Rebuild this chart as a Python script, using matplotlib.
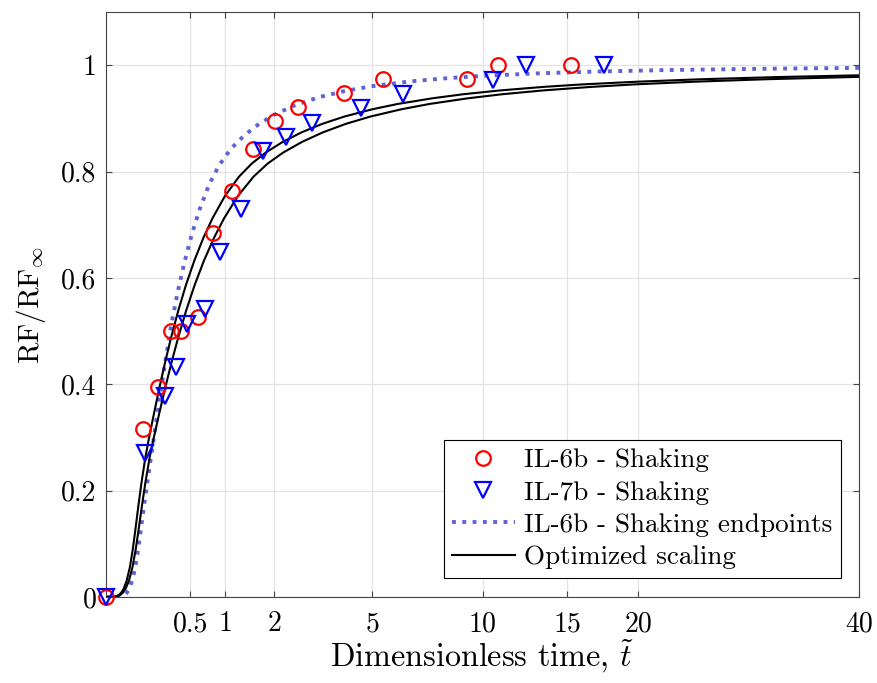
import numpy as np
import matplotlib
matplotlib.use("Agg")
import matplotlib.pyplot as plt

plt.rcParams['font.family'] = 'serif'
plt.rcParams['font.serif'] = ['cmr10']
plt.rcParams['mathtext.fontset'] = 'cm'
plt.rcParams['axes.formatter.use_mathtext'] = True

# measured recovery, IL-6b and IL-7b shaking tests
t_6b = [0, 0.098, 0.193, 0.298, 0.394, 0.601, 0.803, 1.126, 1.518, 2.015, 2.601,
        3.997, 5.414, 9.21, 10.84, 15.24]
rf_6b = [0, 0.316, 0.395, 0.5, 0.5, 0.526, 0.684, 0.763, 0.842, 0.895, 0.921,
         0.947, 0.974, 0.974, 1.0, 1.0]

t_7b = [0, 0.107, 0.246, 0.346, 0.459, 0.692, 0.917, 1.280, 1.739, 2.294, 2.994,
        4.599, 6.211, 10.57, 12.45, 17.48]
rf_7b = [0, 0.270, 0.378, 0.432, 0.514, 0.541, 0.649, 0.730, 0.838, 0.865, 0.892,
         0.919, 0.946, 0.973, 1.0, 1.0]

# fitted curve through the IL-6b endpoints
t_end = [0, 0.01, 0.015, 0.02, 0.025, 0.03, 0.035, 0.04, 0.05, 0.06, 0.07, 0.085,
         0.1, 0.12, 0.145, 0.175, 0.21, 0.25, 0.3, 0.36, 0.43, 0.52, 0.62, 0.75,
         0.9, 1.1, 1.35, 1.65, 2.0, 2.5, 3.2, 4, 5, 6.5, 8, 10, 13, 17, 22, 30, 40]
rf_end = [0, 0.0003, 0.001, 0.0023, 0.0044, 0.0076, 0.012, 0.0178, 0.0338, 0.0555,
          0.0815, 0.1244, 0.1666, 0.2145, 0.2669, 0.3238, 0.384, 0.4455, 0.5113,
          0.571, 0.6264, 0.6822, 0.7296, 0.7754, 0.8112, 0.8428, 0.8681, 0.8894,
          0.907, 0.9242, 0.9398, 0.9512, 0.9606, 0.9694, 0.975, 0.9799, 0.9845,
          0.9881, 0.9908, 0.9932, 0.9949]

# optimized scaling, one curve per test
t_opt_a = [0, 0.003, 0.005, 0.008, 0.012, 0.017, 0.022, 0.03, 0.04, 0.05, 0.06,
           0.075, 0.09, 0.11, 0.13, 0.16, 0.2, 0.25, 0.3, 0.37, 0.45, 0.55, 0.67,
           0.8, 1.0, 1.25, 1.5, 1.8, 2.2, 2.7, 3.3, 4, 5, 6, 7.5, 9, 11, 13.5, 16,
           20, 25, 32, 40]
rf_opt_a = [0, 0.0002, 0.0006, 0.0017, 0.0041, 0.0088, 0.0155, 0.0301, 0.0553,
            0.0873, 0.1229, 0.1745, 0.2177, 0.2636, 0.298, 0.3416, 0.392, 0.4447,
            0.4886, 0.5394, 0.5861, 0.6323, 0.6756, 0.7121, 0.7544, 0.7906, 0.8151,
            0.8357, 0.8556, 0.8738, 0.8897, 0.9033, 0.9171, 0.9271, 0.9377, 0.9454,
            0.9527, 0.9592, 0.9639, 0.9691, 0.9736, 0.9778, 0.981]

t_opt_b = [0, 0.0037, 0.0062, 0.0098, 0.0148, 0.0209, 0.0271, 0.0369, 0.0492,
           0.0615, 0.0738, 0.0923, 0.1107, 0.1353, 0.1599, 0.1968, 0.246, 0.3075,
           0.369, 0.4551, 0.5535, 0.6765, 0.8241, 0.984, 1.23, 1.5375, 1.845,
           2.214, 2.706, 3.321, 4.059, 4.92, 6.15, 7.38, 9.225, 11.07, 13.53,
           16.61, 19.68, 24.6, 30.75, 39.36, 40]
rf_opt_b = [0, 0.0002, 0.0006, 0.0017, 0.0041, 0.0088, 0.0155, 0.0301, 0.0553,
            0.0873, 0.1229, 0.1745, 0.2177, 0.2636, 0.298, 0.3416, 0.392, 0.4447,
            0.4886, 0.5394, 0.5861, 0.6323, 0.6756, 0.7121, 0.7544, 0.7906, 0.8151,
            0.8357, 0.8556, 0.8738, 0.8897, 0.9033, 0.9171, 0.9271, 0.9377, 0.9454,
            0.9527, 0.9592, 0.9639, 0.9691, 0.9736, 0.9778, 0.978]

xticks = [0.5, 1, 2, 5, 10, 15, 20, 40]
yticks = [0, 0.2, 0.4, 0.6, 0.8, 1]

fig = plt.figure(figsize=(8.78, 6.83), dpi=100)
ax = fig.add_axes([0.1207, 0.1259, 0.8577, 0.8565])
# square-root time axis
ax.set_xscale('function', functions=(lambda x: np.sqrt(np.clip(x, 0, None)), np.square))

ax.plot(t_6b, rf_6b, 'o', color='red', mfc='none', ms=10.5, mew=1.6,
        label='IL-6b - Shaking', clip_on=False, zorder=4)
ax.plot(t_7b, rf_7b, 'v', color='blue', mfc='none', ms=12, mew=1.6,
        label='IL-7b - Shaking', clip_on=False, zorder=4)
ax.plot(t_end, rf_end, ':', color='#6262d6', lw=2.8,
        label='IL-6b - Shaking endpoints', zorder=3)
ax.plot(t_opt_a, rf_opt_a, '-', color='black', lw=1.5, label='Optimized scaling', zorder=3)
ax.plot(t_opt_b, rf_opt_b, '-', color='black', lw=1.5, zorder=3)

ax.set_xlim(0, 40)
ax.set_ylim(0, 1.1)
ax.set_xticks(xticks)
ax.set_xticklabels([str(v) for v in xticks])
ax.set_yticks(yticks)
ax.set_yticklabels(['0', '0.2', '0.4', '0.6', '0.8', '1'])
ax.minorticks_off()

ax.grid(True, color='#e3e3e3', lw=0.9)
ax.set_axisbelow(True)
for s in ax.spines.values():
    s.set_color('#444444')
    s.set_linewidth(0.8)
ax.tick_params(direction='in', length=4, width=0.8, color='#444444',
               top=True, right=True, labelsize=20)
ax.tick_params(axis='x', pad=10)
ax.tick_params(axis='y', pad=7)

ax.set_xlabel(r'Dimensionless time, $\tilde{t}$', fontsize=23.2, labelpad=0)
ax.set_ylabel(r'$\mathrm{RF/RF}_\infty$', fontsize=21, labelpad=9)

leg = ax.legend(loc='lower right', bbox_to_anchor=(0.976, 0.0325), borderaxespad=0,
                fontsize=19.5, fancybox=False, framealpha=1, edgecolor='black',
                handlelength=2.3, handletextpad=0.35, labelspacing=0.31,
                borderpad=0.32)
leg.get_frame().set_linewidth(0.8)

fig.savefig('out.png', dpi=100)
